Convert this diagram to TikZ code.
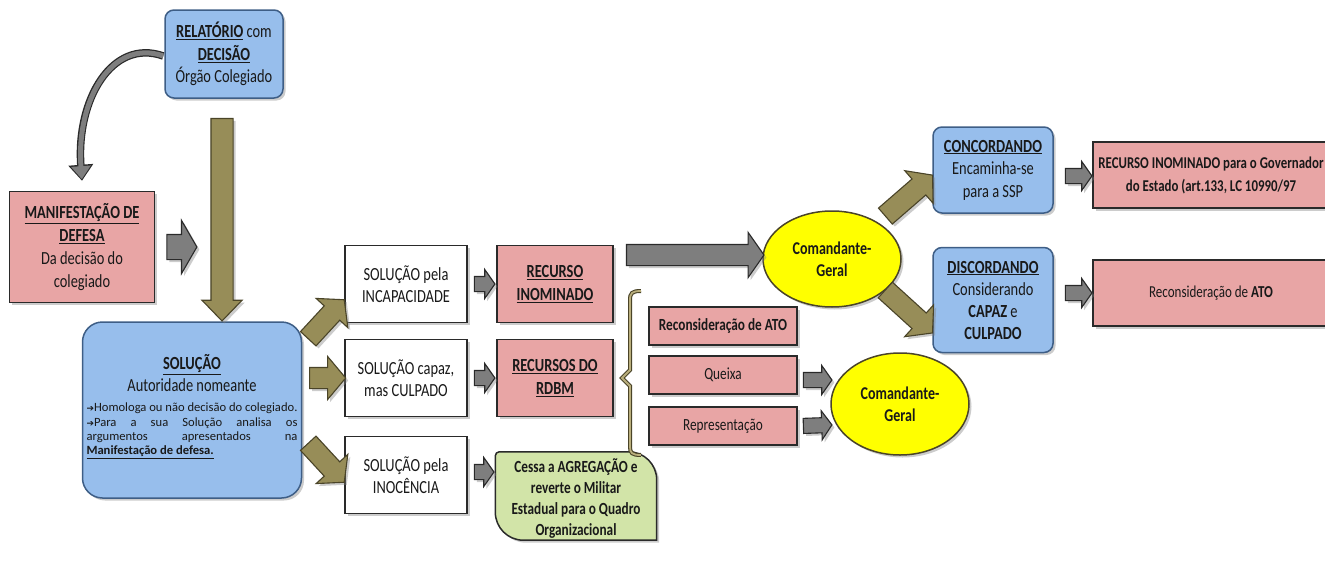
\documentclass[tikz,border=0pt]{standalone}
\usepackage{fontspec}
\setmainfont{Carlito}[FakeStretch=0.78]
\newfontfamily\plainfont{Carlito}
\newfontfamily\symfont{DejaVu Sans}
\usetikzlibrary{shapes.geometric,shapes.arrows,shadows,calc,arrows.meta}

\definecolor{boxblue}{HTML}{97BEEC}
\definecolor{blueedge}{HTML}{3E5E86}
\definecolor{boxpink}{HTML}{E8A5A5}
\definecolor{boxgreen}{HTML}{D2E4A8}
\definecolor{olivefill}{HTML}{978D58}
\definecolor{oliveedge}{HTML}{4A4428}
\definecolor{olivelight}{HTML}{B9AE7C}
\definecolor{arrowgray}{HTML}{7E7E7E}
\definecolor{edgedark}{HTML}{2A2A2A}
\definecolor{cgyellow}{HTML}{FFFF00}

\newcommand\fs[2]{\fontsize{#1}{#2}\selectfont}

% block arrow node stretched from one point to another
\newcommand\blockarrow[3][]{%
  \path let \p1=(#2), \p2=(#3),
    \n1={atan2(\y2-\y1,\x2-\x1)}, \n2={veclen(\x2-\x1,\y2-\y1)} in
    node[#1, rotate=\n1, minimum height=\n2] at ($(\p1)!0.5!(\p2)$) {};}

\tikzset{
  shade/.style={drop shadow={shadow xshift=2.5pt, shadow yshift=-2.5pt, opacity=.4}},
  base/.style={draw=edgedark, line width=1.5pt, align=center, inner sep=2pt,
    shade, font=\fs{18.5}{22.5}, text=black!90},
  bluebox/.style={base, fill=boxblue, draw=blueedge, rounded corners=9pt},
  pinkbox/.style={base, fill=boxpink},
  whitebox/.style={base, fill=white},
  smallpink/.style={pinkbox, minimum width=148pt, minimum height=38pt, font=\fs{17}{20}},
  cgnode/.style={base, ellipse, fill=cgyellow, draw=oliveedge,
    minimum width=138pt, minimum height=96pt, font=\bfseries\fs{18}{22}},
  olivearrow/.style={shape=single arrow, draw=oliveedge, fill=olivefill, line width=1.1pt,
    inner xsep=0pt, inner ysep=9pt, single arrow head extend=10pt,
    single arrow tip angle=100, shade},
  grayarrow/.style={shape=single arrow, draw=edgedark, fill=arrowgray, line width=1.1pt,
    inner xsep=0pt, inner ysep=7pt, single arrow head extend=7pt,
    single arrow tip angle=110, shade},
}

\begin{document}
\begin{tikzpicture}[x=1pt, y=-1pt]
\useasboundingbox (0,0) rectangle (1325,562);

% ---------- boxes ----------
\node[bluebox, minimum width=118pt, minimum height=88pt] (rel) at (224,54)
  {\underline{\textbf{RELATÓRIO}} com\\\underline{\textbf{DECISÃO}}\\Órgão Colegiado};

\node[pinkbox, minimum width=145pt, minimum height=111pt, font=\fs{18.5}{23}] (manif) at (82,247)
  {\underline{\textbf{MANIFESTAÇÃO DE}}\\\underline{\textbf{DEFESA}}\\Da decisão do\\colegiado};

\node[bluebox, rounded corners=20pt, minimum width=219pt, minimum height=176pt] (sol) at (192,410)
  {\underline{\textbf{SOLUÇÃO}}\\[-1pt]
   Autoridade nomeante\\[-2pt]
   \parbox[t]{211pt}{\plainfont\fs{12.6}{14.3}
     {\symfont\fs{9}{14}➔}Homologa ou não decisão do colegiado.\\
     {\symfont\fs{9}{14}➔}Para a sua Solução analisa os\linebreak
     argumentos apresentados na\linebreak
     \underline{\textbf{Manifestação de defesa.}}\par\vspace{-4pt}\mbox{}}};

\node[whitebox, minimum width=122pt, minimum height=77pt] (inc) at (406,284)
  {SOLUÇÃO pela\\INCAPACIDADE};
\node[whitebox, minimum width=122pt, minimum height=77pt] (cap) at (406,378)
  {SOLUÇÃO capaz,\\mas CULPADO};
\node[whitebox, minimum width=122pt, minimum height=77pt] (ino) at (406,475)
  {SOLUÇÃO pela\\INOCÊNCIA};

\node[pinkbox, minimum width=116pt, minimum height=77pt] (rin) at (555,284)
  {\underline{\textbf{RECURSO}}\\\underline{\textbf{INOMINADO}}};
\node[pinkbox, minimum width=116pt, minimum height=77pt] (rdbm) at (555,378)
  {\underline{\textbf{RECURSOS DO}}\\\underline{\textbf{RDBM}}};

% green box with two large rounded corners
\node[minimum width=161pt, minimum height=88pt] (cessa) at (576,496) {};
\draw[base, fill=boxgreen]
  ($(cessa.north west)+(4,0)$) -- ($(cessa.north east)+(-28,0)$)
  arc[start angle=90, end angle=0, radius=28pt]
  -- (cessa.south east) -- ($(cessa.south west)+(28,0)$)
  arc[start angle=270, end angle=180, radius=28pt]
  -- ($(cessa.north west)+(0,4)$)
  arc[start angle=180, end angle=90, radius=4pt] -- cycle;
\node[align=center, font=\bfseries\fs{17}{21}, text=black!90] (cessatext)
  at ($(cessa)+(0,2.5)$)
  {Cessa a AGREGAÇÃO e\\reverte o Militar\\Estadual para o Quadro\\Organizacional};

\node[smallpink] (rec1) at (723,326) {\textbf{Reconsideração de ATO}};
\node[smallpink] (queixa) at (723,375) {Queixa};
\node[smallpink] (rep) at (723,426) {Representação};

\node[cgnode] (cg1) at (832,259) {Comandante-\\Geral};
\node[cgnode, minimum height=102pt] (cg2) at (900,404) {Comandante-\\Geral};

\node[bluebox, minimum width=120pt, minimum height=86pt] (conc) at (993,170)
  {\underline{\textbf{CONCORDANDO}}\\Encaminha-se\\para a SSP};
\node[bluebox, minimum width=120pt, minimum height=105pt, font=\fs{18.5}{22}] (disc) at (993,300)
  {\underline{\textbf{DISCORDANDO}}\\Considerando\\\textbf{CAPAZ} e\\\textbf{CULPADO}};

\node[pinkbox, minimum width=236pt, minimum height=66pt, font=\bfseries\fs{16.5}{23}]
  (rgov) at (1211,175)
  {RECURSO INOMINADO para o Governador\\do Estado (art.133, LC 10990/97};
\node[pinkbox, minimum width=236pt, minimum height=66pt, font=\fs{16.7}{20}]
  (rato) at (1211,293) {Reconsideração de \textbf{ATO}};

% ---------- connectors ----------
% curved arrow from the report to the defence
\draw[line width=7.5pt, draw=edgedark, -{Triangle[length=16pt,width=24pt]}]
  ($(rel.west)+(-1,2)$) .. controls (112,38) and (76,100) .. ($(manif.north)+(0,-10)$);
\draw[line width=5pt, draw=arrowgray, -{Triangle[length=13pt,width=19pt]}, shorten >=1.6pt]
  ($(rel.west)+(-1,2)$) .. controls (112,38) and (76,100) .. ($(manif.north)+(0,-10)$);

\blockarrow[olivearrow, inner ysep=10.5pt, single arrow head extend=9pt, single arrow tip angle=88]
  {$(rel.south)+(-2,14)$}{$(sol.north)+(30,-6)$}
\blockarrow[grayarrow, inner ysep=12pt, single arrow head extend=14pt, single arrow tip angle=120]
  {$(manif.east)+(8,0)$}{$(manif.east)+(38,0)$}

\blockarrow[olivearrow, inner ysep=10pt, single arrow head extend=11pt]
  {$(sol.east)+(3,-68)$}{$(inc.west)+(-3,19)$}
\blockarrow[olivearrow, inner ysep=10pt, single arrow head extend=11pt]
  {$(sol.east)+(3,-32)$}{$(cap.west)+(-3,0)$}
\blockarrow[olivearrow, inner ysep=10pt, single arrow head extend=11pt]
  {$(sol.east)+(3,30)$}{$(ino.west)+(-3,4)$}

\blockarrow[grayarrow]{$(inc.east)+(4,0)$}{$(rin.west)+(-4,0)$}
\blockarrow[grayarrow]{$(cap.east)+(4,0)$}{$(rdbm.west)+(-4,0)$}
\blockarrow[grayarrow]{$(ino.east)+(4,-3)$}{$(cessa.west)+(-4,-24)$}

\blockarrow[grayarrow, inner ysep=10pt, single arrow head extend=12pt]
  {$(rin.east)+(9,-29)$}{$(cg1.west)+(-2,-4)$}

\blockarrow[grayarrow]{$(queixa.east)+(3,5)$}{$(cg2.west)+(-1,-24)$}
\blockarrow[grayarrow]{$(rep.east)+(3,0)$}{$(cg2.west)+(-1,21)$}

\blockarrow[olivearrow, inner ysep=10pt, single arrow head extend=11pt]
  {$(cg1.center)+(50,-40)$}{$(conc.west)+(-3,8)$}
\blockarrow[olivearrow, inner ysep=10pt, single arrow head extend=11pt]
  {$(cg1.center)+(50,28)$}{$(disc.west)+(-3,30)$}

\blockarrow[grayarrow]{$(conc.east)+(9,6)$}{$(rgov.west)+(-3,1)$}
\blockarrow[grayarrow]{$(disc.east)+(9,-7)$}{$(rato.west)+(-3,0)$}

% brace grouping the RDBM appeals
\draw[draw=oliveedge, line width=4pt]
  (641,291) .. controls (632,291) and (630,293) .. (630,300) -- (630,370) -- (622,378)
  -- (630,386) -- (630,447) .. controls (630,453) and (632,455) .. (641,455);
\draw[draw=olivelight, line width=1.8pt]
  (641,291) .. controls (632,291) and (630,293) .. (630,300) -- (630,370) -- (622,378)
  -- (630,386) -- (630,447) .. controls (630,453) and (632,455) .. (641,455);
\end{tikzpicture}
\end{document}
